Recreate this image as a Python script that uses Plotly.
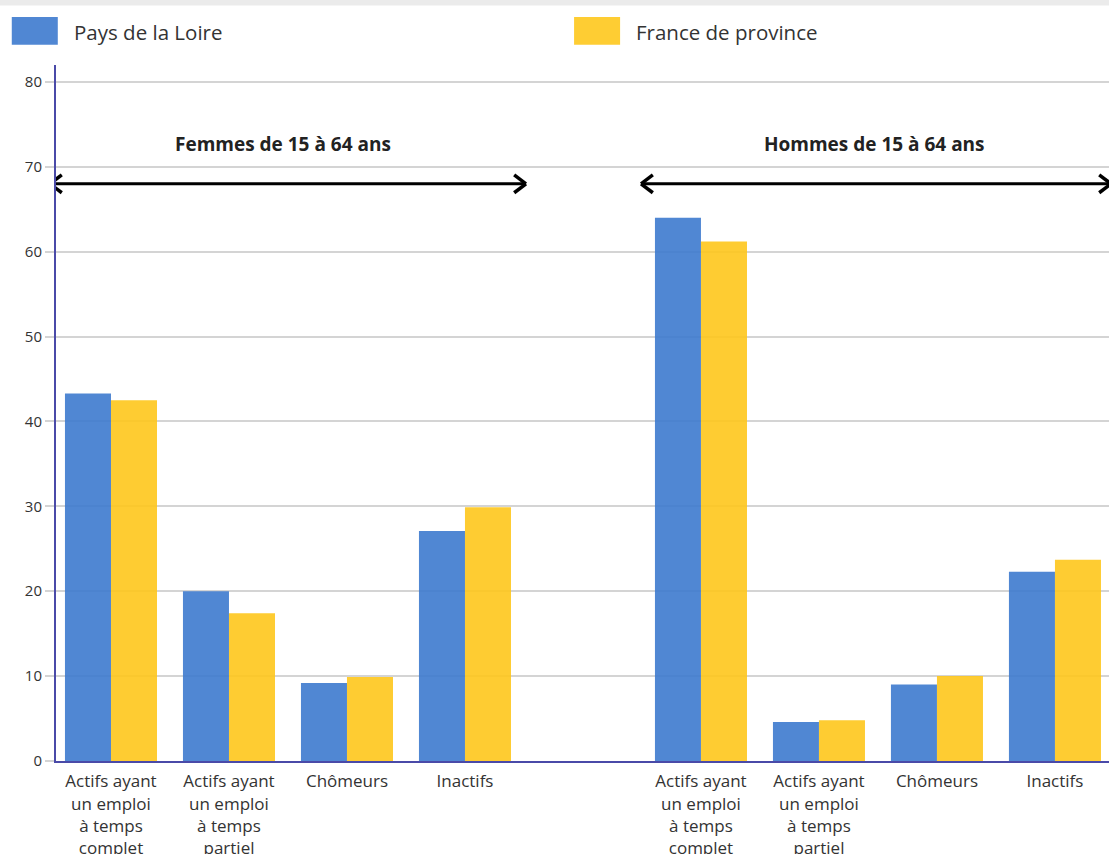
import plotly.graph_objects as go

# Categories (index 4 is an empty spacer slot between the two groups)
categories = [
    "Actifs ayant<br>un emploi<br>à temps<br>complet",
    "Actifs ayant<br>un emploi<br>à temps<br>partiel",
    "Chômeurs",
    "Inactifs",
    "Actifs ayant<br>un emploi<br>à temps<br>complet",
    "Actifs ayant<br>un emploi<br>à temps<br>partiel",
    "Chômeurs",
    "Inactifs",
]
positions = [0, 1, 2, 3, 5, 6, 7, 8]

pays_de_la_loire = [43.3, 20.0, 9.2, 27.1, 64.0, 4.6, 9.0, 22.3]
france_de_province = [42.5, 17.4, 9.9, 29.9, 61.2, 4.8, 10.0, 23.7]

series_names = ["Pays de la Loire", "France de province"]
series_colors = ["rgba(61,122,206,0.9)", "rgba(254,199,28,0.9)"]

group_titles = ["Femmes de 15 à 64 ans", "Hommes de 15 à 64 ans"]
group_spans = [(-0.517, 3.517), (4.492, 8.475)]
group_title_x = [1.458, 6.47]

FONT = "Open Sans"
AXIS_COLOR = "#4a4aa8"

fig = go.Figure()
for name, vals, col in zip(series_names, [pays_de_la_loire, france_de_province], series_colors):
    fig.add_trace(go.Bar(x=positions, y=vals, name=name, marker=dict(color=col, line=dict(width=0)),
                         showlegend=False))

shapes = []
annotations = []

# top border stripe
shapes.append(dict(type="rect", xref="paper", yref="paper", x0=-0.06, x1=1.0, y0=1.0855, y1=1.0934,
                   fillcolor="#ebebeb", line=dict(width=0), layer="below"))

# legend drawn as swatches + labels
legend_x = [-0.042, 0.492]
for (lx, name, col) in zip(legend_x, series_names, ["#5087d3", "#fecd33"]):
    shapes.append(dict(type="rect", xref="paper", yref="paper", x0=lx, x1=lx + 0.0437,
                       y0=1.029, y1=1.069, fillcolor=col, line=dict(width=0)))
    annotations.append(dict(xref="paper", yref="paper", x=lx + 0.057, y=1.047, text=name,
                            showarrow=False, xanchor="left", yanchor="middle",
                            font=dict(family=FONT, size=20.5, color="#333333")))

# group brackets: double-headed arrows with titles
arrow_y = 68.0
dx_head = 0.10
dy_head = 1.05
for title, (xa, xb), tx in zip(group_titles, group_spans, group_title_x):
    shapes.append(dict(type="line", x0=xa, x1=xb, y0=arrow_y, y1=arrow_y,
                       line=dict(color="black", width=3)))
    for tip, sgn in [(xa, 1), (xb, -1)]:
        for s in (1, -1):
            shapes.append(dict(type="line", x0=tip, y0=arrow_y, x1=tip + sgn * dx_head,
                               y1=arrow_y + s * dy_head, line=dict(color="black", width=3.5)))
    annotations.append(dict(x=tx, y=72.7, text="<b>" + title + "</b>",
                            showarrow=False, xanchor="center", yanchor="middle",
                            font=dict(family=FONT, size=19, color="#222222")))

fig.update_layout(
    width=1109, height=854,
    margin=dict(l=56, r=0, t=65, b=93, autoexpand=False),
    paper_bgcolor="white", plot_bgcolor="white",
    barmode="group", bargap=0.22, bargroupgap=0,
    font=dict(family=FONT, color="#333333"),
    shapes=shapes, annotations=annotations,
    xaxis=dict(range=[-0.466, 8.458], tickmode="array", tickvals=positions, ticktext=categories,
               automargin=False,
               showgrid=False, zeroline=False, showline=True, linecolor=AXIS_COLOR, linewidth=2,
               ticks="outside", ticklen=4, tickcolor="rgba(0,0,0,0)",
               tickfont=dict(family=FONT, size=17, color="#333333")),
    yaxis=dict(range=[0, 82], tickmode="array", tickvals=list(range(0, 81, 10)),
               automargin=False,
               showgrid=True, gridcolor="#d4d4d4", gridwidth=1.5, zeroline=False,
               showline=True, linecolor=AXIS_COLOR, linewidth=2,
               ticks="outside", ticklen=9, tickcolor="#d4d4d4", tickwidth=1.5,
               tickfont=dict(family=FONT, size=15, color="#333333")),
)

fig.write_html("out.html")
